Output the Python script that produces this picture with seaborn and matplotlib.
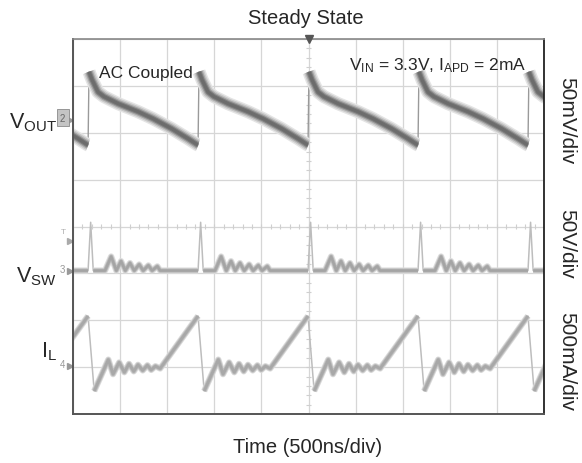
import numpy as np
import pandas as pd
import matplotlib
matplotlib.use("Agg")
import matplotlib.pyplot as plt
import seaborn as sns

# ---- values read from the scope capture (x and y in divisions, y = 0 at bottom) ----
edge_times = [0.32, 2.655, 4.99, 7.325, 9.66]      # switching instants (VOUT rising edges)

vout_phase = [0.0, 0.02, 0.085, 0.21, 0.34, 0.64, 1.06, 1.38, 1.77, 2.13, 2.32]
vout_level = [5.74, 7.30, 7.13, 6.87, 6.77, 6.62, 6.45, 6.30, 6.09, 5.87, 5.745]

vsw_phase = [0.0, 0.055, 0.11, 0.36, 0.49, 0.60, 0.70, 0.79, 0.89, 0.98, 1.085,
             1.17, 1.28, 1.36, 1.47, 1.53]
vsw_level = [3.06, 4.09, 3.06, 3.06, 3.36, 3.06, 3.26, 3.06, 3.22, 3.06, 3.19,
             3.06, 3.17, 3.06, 3.15, 3.06]

il_phase = [0.0, 0.13, 0.43, 0.53, 0.66, 0.77, 0.87, 0.97, 1.06, 1.16, 1.26,
            1.34, 1.43, 1.53]
il_level = [2.09, 0.49, 1.16, 0.85, 1.10, 0.89, 1.07, 0.91, 1.05, 0.93, 1.04,
            0.94, 1.02, 0.97]

channel_labels = ["V$_{OUT}$", "V$_{SW}$", "I$_{L}$"]
scale_labels = ["50mV/div", "50V/div", "500mA/div"]
title = "Steady State"
xlabel = "Time (500ns/div)"
note_left = "AC Coupled"
note_right = "V$_{IN}$ = 3.3V, I$_{APD}$ = 2mA"

# ---- build long-form table ----
starts = [edge_times[0] - (edge_times[1] - edge_times[0])] + edge_times


def build(name, phase, level, slow_from):
    rows = []
    for k, s in enumerate(starts):
        nxt = starts[k + 1] if k + 1 < len(starts) else s + (starts[-1] - starts[-2])
        pts = [(s + p, v) for p, v in zip(phase, level)] + [(nxt, level[0])]
        for t, v in pts:
            rows.append(dict(trace=name, t=t, v=v, seg=f"{name}-all", kind="fast"))
        for t, v in pts[slow_from:]:
            rows.append(dict(trace=name, t=t, v=v, seg=f"{name}-{k}", kind="slow"))
    return pd.DataFrame(rows)


df = pd.concat([build("vout", vout_phase, vout_level, 1),
                build("vsw", vsw_phase, vsw_level, 2),
                build("il", il_phase, il_level, 1)], ignore_index=True)

sns.set_theme(style="white")
plt.rcParams["font.family"] = ["Liberation Sans", "DejaVu Sans"]
plt.rcParams["mathtext.default"] = "regular"

W, H = 582, 464
fig = plt.figure(figsize=(W / 100, H / 100), dpi=100)
L, R, T, B = 73, 544, 40, 415
ax = fig.add_axes([L / W, 1 - B / H, (R - L) / W, (B - T) / H])
ax.set_xlim(0, 10)
ax.set_ylim(0, 8)
ax.set_xticks(np.arange(11))
ax.set_yticks(np.arange(9))
ax.grid(True, color="#d6d6d6", lw=0.9)
ax.set_axisbelow(True)
ax.tick_params(length=0, labelbottom=False, labelleft=False)

# minor ticks along the centre graticule lines
ax.vlines(np.arange(0.2, 10, 0.2), 3.94, 4.06, color="#cfcfcf", lw=0.8, zorder=1)
ax.hlines(np.arange(0.2, 8, 0.2), 4.94, 5.06, color="#cfcfcf", lw=0.8, zorder=1)

for side, c, w in [("left", "#555555", 1.4), ("bottom", "#555555", 1.4),
                   ("right", "#222222", 1.3), ("top", "#888888", 1.2)]:
    ax.spines[side].set_color(c)
    ax.spines[side].set_linewidth(w)
    ax.spines[side].set_visible(True)

fast = df[df.kind == "fast"]
slow = df[df.kind == "slow"]

kw = dict(x="t", y="v", units="seg", estimator=None, sort=False, legend=False, ax=ax,
          solid_capstyle="butt", solid_joinstyle="round")
# thin fast edges
sns.lineplot(data=fast[fast.trace == "vout"], color="#9a9a9a", lw=1.0, **kw)
sns.lineplot(data=fast[fast.trace != "vout"], color="#bdbdbd", lw=1.1, **kw)
# VOUT thick fuzzy band
sv = slow[slow.trace == "vout"]
for lw, c in [(9.5, "#e4e4e4"), (7.5, "#c8c8c8"), (5.5, "#a4a4a4"), (3.8, "#7e7e7e"), (2.3, "#6c6c6c")]:
    sns.lineplot(data=sv, color=c, lw=lw, **kw)
# VSW
ss = slow[slow.trace == "vsw"]
for lw, c in [(4.5, "#dcdcdc"), (3.0, "#b8b8b8"), (1.8, "#a4a4a4")]:
    sns.lineplot(data=ss, color=c, lw=lw, **kw)
# IL
si = slow[slow.trace == "il"]
for lw, c in [(4.5, "#dadada"), (3.2, "#bcbcbc"), (2.0, "#a8a8a8")]:
    sns.lineplot(data=si, color=c, lw=lw, **kw)
ax.set_xlabel("")
ax.set_ylabel("")

# trigger marker / channel markers
ax.plot([5], [8], marker="v", color="#555555", ms=6, clip_on=False, zorder=5)
ax.plot([-0.07], [3.70], marker=">", color="#aaaaaa", ms=4, clip_on=False)
ax.text(-0.2, 3.89, "T", color="#b0b0b0", fontsize=6, ha="center", va="center")
for yv, lab, boxed in [(6.28, "2", True), (3.06, "3", False), (1.02, "4", False)]:
    ax.plot([-0.07], [yv], marker=">", color="#999999", ms=4, clip_on=False)
    ax.text(-0.22, yv + 0.04, lab, color="#999999" if not boxed else "#666666",
            fontsize=7, ha="center", va="center",
            bbox=dict(boxstyle="square,pad=0.35", fc="#c4c4c4", ec="#8a8a8a", lw=0.6) if boxed else None)

# texts
def fy(px):
    return 1 - px / H

fig.text(306 / W, fy(24), title, ha="center", va="baseline", fontsize=14.5)
fig.text(308 / W, fy(453), xlabel, ha="center", va="baseline", fontsize=14.5)
fig.text(99 / W, fy(78), note_left, ha="left", va="baseline", fontsize=12.5)
fig.text(527 / W, fy(70), note_right, ha="right", va="baseline", fontsize=12.5)
for lab, base in zip(channel_labels, [128, 282, 357]):
    fig.text(57 / W, fy(base), lab, ha="right", va="baseline", fontsize=15.5)
for lab, cy in zip(scale_labels, [121, 244, 362]):
    fig.text(567 / W, fy(cy), lab, ha="center", va="center", rotation=270, fontsize=15)

fig.savefig("out.png", dpi=100, facecolor="white")
